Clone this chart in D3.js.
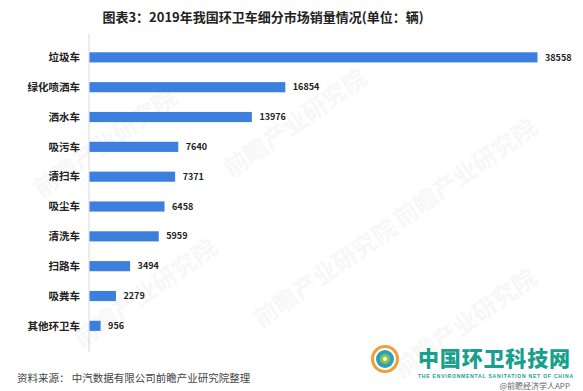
<!DOCTYPE html>
<html><head><meta charset="utf-8">
<script src="https://cdn.jsdelivr.net/npm/d3@7"></script>
<style>body{margin:0;background:#fff}svg{display:block}</style>
</head><body>
<script>
const categories = ["垃圾车","绿化喷洒车","洒水车","吸污车","清扫车","吸尘车","清洗车","扫路车","吸粪车","其他环卫车"];
const values = [38558,16854,13976,7640,7371,6458,5959,3494,2279,956];
const title = "图表3：2019年我国环卫车细分市场销量情况(单位：辆)";
const source = "资料来源： 中汽数据有限公司前瞻产业研究院整理";

const W=583,H=391;
const svg=d3.select("body").append("svg").attr("width",W).attr("height",H);
const font="'Noto Sans CJK SC','Microsoft YaHei',sans-serif";

// watermarks
const wm=[[110,150],[300,130],[470,180],[150,300],[330,280],[470,330]];
wm.forEach(([x,y])=>{
  const g=svg.append("g").attr("transform",`translate(${x},${y}) rotate(-35)`).attr("opacity",0.045);
  g.append("text").attr("text-anchor","middle").attr("font-family",font).attr("font-size",24).attr("font-weight",700).attr("fill","#555").text("前瞻产业研究院");
});

svg.append("text").attr("x",263).attr("y",22).attr("text-anchor","middle")
  .attr("font-family",font).attr("font-size",13).attr("font-weight",700).attr("fill","#222").text(title);

const x=d3.scaleLinear().domain([0,38558]).range([89,537]);
const y=d3.scaleBand().domain(categories).range([32.6,350.6]).padding(0.66);

svg.append("line").attr("x1",89).attr("x2",89).attr("y1",34).attr("y2",352).attr("stroke","#d9d9d9").attr("stroke-width",1);

svg.selectAll("rect.bar").data(values).join("rect").attr("class","bar")
  .attr("x",x(0)+0.5).attr("y",(d,i)=>y(categories[i])).attr("width",d=>x(d)-x(0)).attr("height",y.bandwidth())
  .attr("fill","#3d7fdf");

svg.selectAll("text.val").data(values).join("text").attr("class","val")
  .attr("x",d=>x(d)+8).attr("y",(d,i)=>y(categories[i])+y.bandwidth()/2).attr("dy","0.35em")
  .attr("font-family",font).attr("font-size",9).attr("font-weight",700).attr("fill","#222").text(d=>d);

svg.selectAll("text.cat").data(categories).join("text").attr("class","cat")
  .attr("x",80).attr("y",d=>y(d)+y.bandwidth()/2).attr("dy","0.35em").attr("text-anchor","end")
  .attr("font-family",font).attr("font-size",10.5).attr("font-weight",700).attr("fill","#222").text(d=>d);

svg.append("text").attr("x",17).attr("y",382).attr("font-family",font).attr("font-size",10.5).attr("fill","#444").text(source);

// logo
const lg=svg.append("g");
lg.append("circle").attr("cx",385).attr("cy",359).attr("r",12.5).attr("fill","none").attr("stroke","#f0a030").attr("stroke-width",3);
lg.append("circle").attr("cx",385).attr("cy",359).attr("r",9).attr("fill","#2aa0c0");
lg.append("circle").attr("cx",385).attr("cy",359).attr("r",5).attr("fill","#8cc63f");
lg.append("circle").attr("cx",385).attr("cy",359).attr("r",2).attr("fill","#fff");
lg.append("text").attr("x",418).attr("y",366).attr("font-family",font).attr("font-size",21).attr("font-weight",900)
  .attr("fill","#17a08c").attr("textLength",152).text("中国环卫科技网");
lg.append("text").attr("x",418).attr("y",378).attr("font-family","'Liberation Sans',sans-serif").attr("font-size",5).attr("font-weight",700)
  .attr("fill","#17a08c").attr("textLength",155).text("THE ENVIRONMENTAL SANITATION NET OF CHINA");
lg.append("text").attr("x",570).attr("y",389).attr("text-anchor","end").attr("font-family",font).attr("font-size",8)
  .attr("fill","#666").text("@前瞻经济学人APP");
</script>
</body></html>
